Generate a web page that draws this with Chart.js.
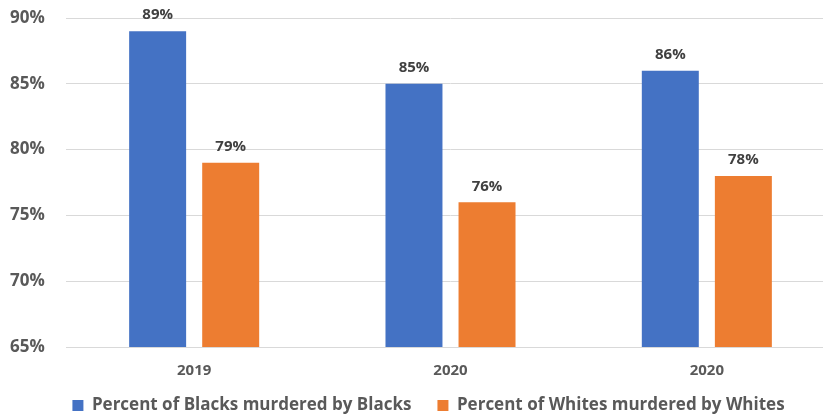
<!DOCTYPE html>
<html>
<head>
<meta charset="utf-8">
<script src="https://cdn.jsdelivr.net/npm/chart.js@4"></script>
<style>
html,body{margin:0;padding:0;background:#fff;overflow:hidden}
#wrap{width:835px;height:415px;position:relative}
</style>
</head>
<body>
<div id="wrap"><canvas id="c"></canvas></div>
<script>
// 연도별 비율
const years=['2019','2020','2020'];
const blackVals=[89,85,86];
const whiteVals=[79,76,78];
const seriesNames=['Percent of Blacks murdered by Blacks','Percent of Whites murdered by Whites'];
const yTicks=[65,70,75,80,85,90];

const FONT='"Open Sans", "Liberation Sans", sans-serif';

// 막대 위 값 표시 + 범례 위치 보정
const valueLabels={id:'valueLabels',
  afterLayout(chart){
    const lg=chart.legend;
    lg.left+=6;lg.right+=6;
    lg.top-=16;lg.bottom-=16;
  },
  afterDatasetsDraw(chart){
    const ctx=chart.ctx;
    ctx.save();
    ctx.font='bold 15px '+FONT;
    ctx.fillStyle='#404040';
    ctx.textAlign='center';
    ctx.textBaseline='middle';
    chart.data.datasets.forEach((ds,di)=>{
      chart.getDatasetMeta(di).data.forEach((bar,i)=>{
        ctx.fillText(ds.data[i]+'%',bar.x,bar.y-16);
      });
    });
    ctx.restore();
  }
};

new Chart(document.getElementById('c'),{type:'bar',
  data:{labels:years,
    datasets:[
      {label:seriesNames[0],data:blackVals,backgroundColor:'#4472C4',barPercentage:0.78,categoryPercentage:0.57},
      {label:seriesNames[1],data:whiteVals,backgroundColor:'#ED7D31',barPercentage:0.78,categoryPercentage:0.57}
    ]},
  options:{responsive:true,maintainAspectRatio:false,animation:false,
    layout:{padding:{left:10,right:0,top:18,bottom:-25}},
    plugins:{tooltip:{enabled:false},
      legend:{position:'bottom',labels:{font:{family:FONT,size:17,weight:'bold'},color:'#595959',boxWidth:11,boxHeight:11,padding:26}}},
    scales:{
      x:{grid:{display:false},border:{color:'#d9d9d9'},
        ticks:{font:{family:FONT,size:15,weight:'bold'},color:'#595959',padding:7}},
      y:{min:65,max:90,afterBuildTicks:s=>{s.ticks=yTicks.map(v=>({value:v}));},
        afterFit:s=>{s.width=56;},
        grid:{color:'#d9d9d9',drawTicks:false},border:{display:false},
        ticks:{font:{family:FONT,size:17,weight:'bold'},color:'#595959',padding:0,crossAlign:'far',callback:v=>v+'%'}}
    }},
  plugins:[valueLabels]
});
</script>
</body>
</html>
